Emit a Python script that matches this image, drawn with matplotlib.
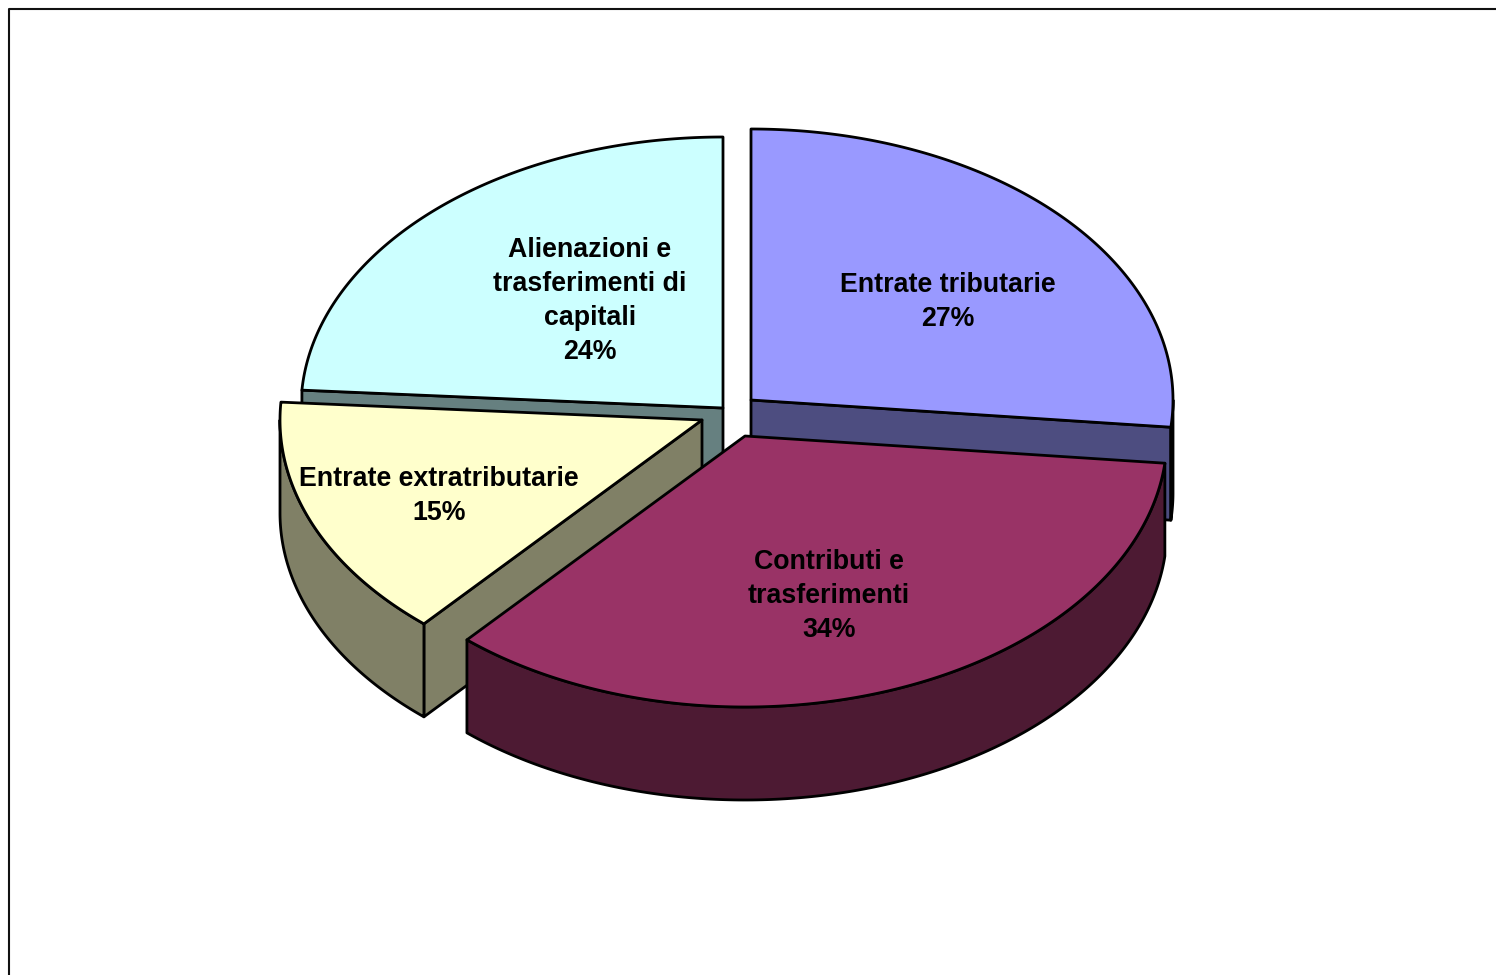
import numpy as np
import matplotlib
matplotlib.use('Agg')
import matplotlib.pyplot as plt

# voci di entrata, in senso orario da ore 12
labels = ['Entrate tributarie', 'Contributi e\ntrasferimenti', 'Entrate extratributarie', 'Alienazioni e\ntrasferimenti di\ncapitali']
pct_labels = ['27%', '34%', '15%', '24%']
# ampiezze stimate dal disegno, le etichette sono arrotondate
shares = [26.6, 34.85, 14.6, 23.95]
top_colors = ['#9999FF', '#993366', '#FFFFCC', '#CCFFFF']
side_colors = ['#4D4D80', '#4D1A33', '#808066', '#668080']

# punto di partenza di ogni fetta (pixel), dopo l'esplosione
apex_x = [751, 745, 702, 723]
apex_y = [400, 436, 420, 408]
label_x = [948, 829, 439, 590]
label_y = [302, 596, 496, 301]

RX, RY = 422, 271
DEPTH = 93
LW = 2.0

plt.rcParams['font.family'] = ['Liberation Sans', 'DejaVu Sans']

fig = plt.figure(figsize=(14.96, 9.75), dpi=100)
ax = fig.add_axes([0, 0, 1, 1])
ax.set_xlim(0, 1496)
ax.set_ylim(975, 0)
ax.axis('off')

# cornice del grafico, esce dall'immagine a destra e in basso
ax.plot([9, 9, 1600], [1100, 9, 9], color='#111111', lw=1.5, zorder=1)

edges = np.cumsum([0] + shares) / 100 * 2 * np.pi


def rim(cx, cy, t0, t1):
    t = np.linspace(t0, t1, 200)
    return cx + RX * np.sin(t), cy - RY * np.cos(t)


def poly(x, y, color, z):
    ax.fill(x, y, facecolor=color, edgecolor='black', lw=LW, joinstyle='round', zorder=z)


# ordine di disegno: dietro prima, davanti dopo
order = [3, 0, 2, 1]
for z, i in enumerate(order):
    cx, cy = apex_x[i], apex_y[i]
    t0, t1 = edges[i], edges[i + 1]
    z = 2 + z * 3

    # facce di taglio visibili
    cut = {0: t1, 2: t0, 3: t0}.get(i)
    if cut is not None:
        ex, ey = rim(cx, cy, cut, cut)
        poly([cx, ex[0], ex[0], cx], [cy, ey[0], ey[0] + DEPTH, cy + DEPTH], side_colors[i], z)

    # parete esterna, solo nella meta' anteriore
    a, b = max(t0, np.pi / 2), min(t1, 3 * np.pi / 2)
    if a < b:
        x, y = rim(cx, cy, a, b)
        poly(np.r_[x, x[::-1]], np.r_[y, y[::-1] + DEPTH], side_colors[i], z + 1)

    # faccia superiore
    x, y = rim(cx, cy, t0, t1)
    poly(np.r_[cx, x], np.r_[cy, y], top_colors[i], z + 2)

for name, pct, lx, ly in zip(labels, pct_labels, label_x, label_y):
    ax.text(lx, ly, f'{name}\n{pct}', ha='center', va='center', fontsize=19.25,
            fontweight='bold', color='black', linespacing=1.39, zorder=50)

fig.savefig('out.png', dpi=100)
